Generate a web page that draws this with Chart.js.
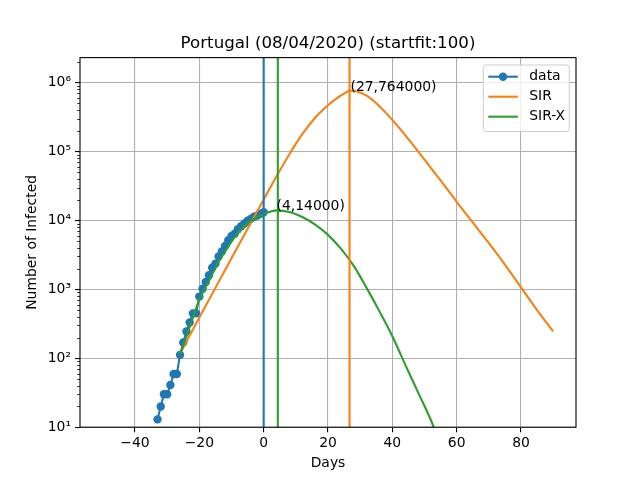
<!DOCTYPE html>
<html>
<head>
<meta charset="utf-8">
<script src="https://cdn.jsdelivr.net/npm/chart.js@4.4.0/dist/chart.umd.min.js"></script>
<style>
html,body{margin:0;padding:0;background:#ffffff;}
#wrap{width:640px;height:480px;position:relative;}
</style>
</head>
<body>
<div id="wrap"><canvas id="c"></canvas></div>
<script>
// ---------- data ----------
const chartTitle = 'Portugal (08/04/2020) (startfit:100)';
const xAxisTitle = 'Days';
const yAxisTitle = 'Number of Infected';

const dataDays = [-33,-32,-31,-30,-29,-28,-27,-26,-25,-24,-23,-22,-21,-20,-19,-18,-17,-16,-15,-14,-13,-12,-11,-10,-9,-8,-7,-6,-5,-4,-3,-2,-1,0];
const dataCases = [13,20,30,30,41,59,59,112,169,245,331,448,448,785,1020,1280,1600,2060,2362,2995,3544,4268,5170,5962,6408,7443,8251,9034,9886,10524,11278,11730,12442,13141];

const sirDays = [-26,-20,-15,-10,-5,0,4,8,12,16,20,23,25,27,29,32,35,38,42,46,50,55,60,65,70,75,80,85,90];
const sirValues = [117,389,1050,2820,7590,20000,43600,91200,178000,309000,468000,603000,692000,764000,741000,646000,501000,363000,224000,132000,75900,38000,18600,9330,4680,2290,1070,501,245];

const sirxDays = [-26,-23,-20,-17,-14,-11,-8,-5,-2,1,4,8,12,16,20,24,28,32,36,40,44,48,52,56];
const sirxValues = [112,282,708,1320,2510,4170,6610,9120,11200,12900,14000,13200,11200,8710,6170,3890,2190,1050,479,209,81,32,12.6,4.2];

const peakDays = [0, 4.4, 26.7];          // blue (last data), green (SIR-X peak), orange (SIR peak)
const annotationX = [27, 4];
const annotationY = [764000, 14000];
const annotationText = ['(27,764000)', '(4,14000)'];

const xTickValues = [-40,-20,0,20,40,60,80];
const xTickLabels = ['\u221240','\u221220','0','20','40','60','80'];
const yTickValues = [10,100,1000,10000,100000,1000000];
const yTickLabels = ['10\u00B9','10\u00B2','10\u00B3','10\u2074','10\u2075','10\u2076'];
const xMin = -57.1, xMax = 97.1;
const yMin = 10, yMax = 2.3e6;

const legendLabels = ['data','SIR','SIR-X'];
const C0 = '#1f77b4', C1 = '#ff7f0e', C2 = '#2ca02c';
const FONT = 'DejaVu Sans';

function pts(xs, ys){ return xs.map((x,i)=>({x:x, y:ys[i]})); }

// ---------- plugins ----------
const decorPlugin = {
  id: 'decor',
  afterDatasetsDraw(chart){
    const ctx = chart.ctx, a = chart.chartArea;
    const xs = chart.scales.x, ys = chart.scales.y;
    ctx.save();
    // annotations
    ctx.fillStyle = '#000';
    ctx.font = '13.9px "' + FONT + '"';
    ctx.textAlign = 'left';
    ctx.textBaseline = 'alphabetic';
    for (let i=0;i<annotationText.length;i++){
      ctx.fillText(annotationText[i], xs.getPixelForValue(annotationX[i]), ys.getPixelForValue(annotationY[i]));
    }
    // frame
    ctx.strokeStyle = '#000';
    ctx.lineWidth = 1.1;
    ctx.strokeRect(a.left, a.top, a.right-a.left, a.bottom-a.top);
    // minor ticks on log axis
    ctx.lineWidth = 0.8;
    ctx.beginPath();
    for (let d=1; d<=6; d++){
      for (let m=2; m<=9; m++){
        const v = m*Math.pow(10,d);
        if (v>yMax) continue;
        const py = Math.round(ys.getPixelForValue(v))+0.5;
        ctx.moveTo(a.left, py); ctx.lineTo(a.left-2.8, py);
      }
    }
    ctx.stroke();
    // legend
    const bw = 86, bh = 66.5;
    const bx = a.right - 6.7 - bw, by = a.top + 7.4;
    ctx.beginPath();
    const r = 3;
    ctx.moveTo(bx+r,by); ctx.lineTo(bx+bw-r,by); ctx.quadraticCurveTo(bx+bw,by,bx+bw,by+r);
    ctx.lineTo(bx+bw,by+bh-r); ctx.quadraticCurveTo(bx+bw,by+bh,bx+bw-r,by+bh);
    ctx.lineTo(bx+r,by+bh); ctx.quadraticCurveTo(bx,by+bh,bx,by+bh-r);
    ctx.lineTo(bx,by+r); ctx.quadraticCurveTo(bx,by,bx+r,by);
    ctx.closePath();
    ctx.fillStyle = 'rgba(255,255,255,0.8)';
    ctx.fill();
    ctx.strokeStyle = '#cccccc';
    ctx.lineWidth = 1;
    ctx.stroke();
    const dsByLabel = {};
    chart.data.datasets.forEach(d=>{ dsByLabel[d.label]=d; });
    legendLabels.forEach((lab,i)=>{
      const d = dsByLabel[lab];
      const yy = by + 11.7 + i*20;
      ctx.strokeStyle = d.borderColor;
      ctx.lineWidth = 2.1;
      ctx.beginPath(); ctx.moveTo(bx+5, yy); ctx.lineTo(bx+34.5, yy); ctx.stroke();
      if (d.pointRadius > 0){
        ctx.fillStyle = d.borderColor;
        ctx.beginPath(); ctx.arc(bx+19.7, yy, 4.2, 0, Math.PI*2); ctx.fill();
      }
      ctx.fillStyle = '#000';
      ctx.textBaseline = 'middle';
      ctx.font = '13.9px "' + FONT + '"';
      ctx.fillText(lab, bx+46, yy);
    });
    ctx.restore();
  }
};

// ---------- chart ----------
Chart.defaults.font.family = FONT;
Chart.defaults.color = '#000';

const vline = (x, color) => ({
  label: 'vline'+x, data: [{x:x,y:yMin},{x:x,y:yMax}],
  borderColor: color, backgroundColor: color, borderWidth: 2.1, pointRadius: 0, tension: 0
});

new Chart(document.getElementById('c'), {
  type: 'line',
  data: {
    datasets: [
      vline(peakDays[0], C0),
      vline(peakDays[1], C2),
      vline(peakDays[2], C1),
      { label: 'SIR-X', data: pts(sirxDays, sirxValues), borderColor: C2, backgroundColor: C2,
        borderWidth: 2.1, pointRadius: 0, cubicInterpolationMode: 'monotone' },
      { label: 'SIR', data: pts(sirDays, sirValues), borderColor: C1, backgroundColor: C1,
        borderWidth: 2.1, pointRadius: 0, cubicInterpolationMode: 'monotone' },
      { label: 'data', data: pts(dataDays, dataCases), borderColor: C0, backgroundColor: C0,
        borderWidth: 2.1, pointRadius: 4.2, pointBorderWidth: 0, pointBackgroundColor: C0, tension: 0 }
    ]
  },
  options: {
    responsive: true,
    maintainAspectRatio: false,
    animation: false,
    events: [],
    layout: { padding: { left: 0, right: 64, top: 0, bottom: 0 } },
    plugins: {
      legend: { display: false },
      tooltip: { enabled: false },
      title: {
        display: true, text: chartTitle, fullSize: false, color: '#000',
        font: { size: 16.67, family: FONT, weight: 'normal', lineHeight: 1.2 },
        padding: { top: 34, bottom: 3.6 }
      }
    },
    scales: {
      x: {
        type: 'linear', min: xMin, max: xMax,
        afterBuildTicks: (s) => { s.ticks = xTickValues.map(v=>({value:v})); },
        afterFit: (s) => { s.height = 52.8; },
        ticks: { callback: (v, i) => xTickLabels[i], font: { size: 13.9, family: FONT }, color: '#000', padding: 3, maxRotation: 0, autoSkip: false },
        grid: { color: '#b0b0b0', lineWidth: 1.1, drawTicks: true, tickLength: 5, tickColor: '#000', tickWidth: 1.1 },
        border: { display: false },
        title: { display: true, text: xAxisTitle, color: '#000', font: { size: 13.9, family: FONT }, padding: { top: 0, bottom: 8.5 } }
      },
      y: {
        type: 'logarithmic', min: yMin, max: yMax,
        afterBuildTicks: (s) => { s.ticks = yTickValues.map(v=>({value:v})); },
        afterFit: (s) => { s.width = 80; },
        ticks: { callback: (v, i) => yTickLabels[i], font: { size: 13.9, family: FONT }, color: '#000', padding: 4, autoSkip: false },
        grid: { color: '#b0b0b0', lineWidth: 1.1, drawTicks: true, tickLength: 5, tickColor: '#000', tickWidth: 1.1 },
        border: { display: false },
        title: { display: true, text: yAxisTitle, color: '#000', font: { size: 13.9, family: FONT }, padding: { top: 24, bottom: 0 } }
      }
    }
  },
  plugins: [decorPlugin]
});
</script>
</body>
</html>
